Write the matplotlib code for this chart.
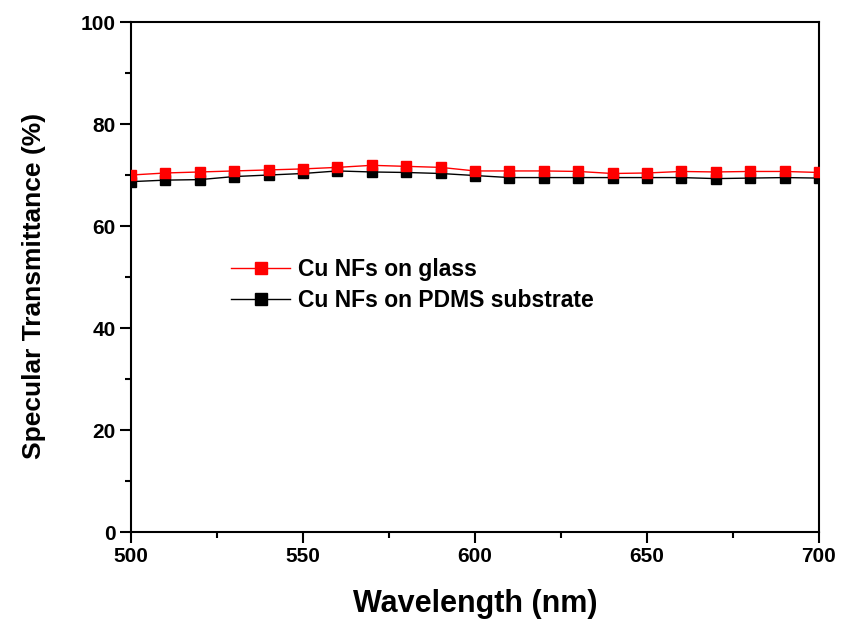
import numpy as np
import matplotlib

matplotlib.use("Agg")
import matplotlib.pyplot as plt
from matplotlib.ticker import MultipleLocator

plt.rcParams["font.family"] = ["Liberation Sans", "DejaVu Sans"]
plt.rcParams["font.weight"] = "bold"

wavelength = np.arange(500, 701, 10)
glass = [70.0, 70.4, 70.6, 70.8, 71.0, 71.2, 71.5, 71.9, 71.7, 71.5, 70.8,
         70.8, 70.8, 70.7, 70.3, 70.4, 70.7, 70.6, 70.7, 70.7, 70.5]
pdms = [68.7, 69.0, 69.1, 69.7, 70.0, 70.3, 70.8, 70.6, 70.5, 70.3, 69.9,
        69.5, 69.5, 69.5, 69.5, 69.5, 69.5, 69.3, 69.4, 69.5, 69.4]

fig = plt.figure(figsize=(8.41, 6.24), dpi=100)
ax = fig.add_axes([0.1558, 0.1474, 0.818, 0.8173])

ax.plot(wavelength, glass, "-s", color="red", lw=1.0, ms=7.5,
        label="Cu NFs on glass", zorder=3)
ax.plot(wavelength, pdms, "-s", color="black", lw=1.0, ms=7.5,
        label="Cu NFs on PDMS substrate", zorder=2)

ax.set_xlim(500, 700)
ax.set_ylim(0, 100)
ax.xaxis.set_major_locator(MultipleLocator(50))
ax.xaxis.set_minor_locator(MultipleLocator(25))
ax.yaxis.set_major_locator(MultipleLocator(20))
ax.yaxis.set_minor_locator(MultipleLocator(10))
ax.tick_params(which="both", direction="out", width=1.5, labelsize=15,
               top=False, right=False, pad=3)
ax.tick_params(which="major", length=8)
ax.tick_params(which="minor", length=4)
for s in ax.spines.values():
    s.set_linewidth(1.5)
for lab in ax.get_xticklabels() + ax.get_yticklabels():
    lab.set_fontweight("bold")

ax.set_xlabel("Wavelength (nm)", fontsize=22, fontweight="bold", labelpad=16)
ax.set_ylabel("Specular Transmittance (%)", fontsize=19, fontweight="bold",
              labelpad=25)
ax.yaxis.label.set_y(0.482)

ax.legend(loc="center left", bbox_to_anchor=(0.115, 0.485), frameon=False,
          handlelength=2.6, handletextpad=0.35, labelspacing=0.35,
          markerscale=1.2, prop={"weight": "bold", "size": 16.5})

fig.savefig("out.png", dpi=100)
